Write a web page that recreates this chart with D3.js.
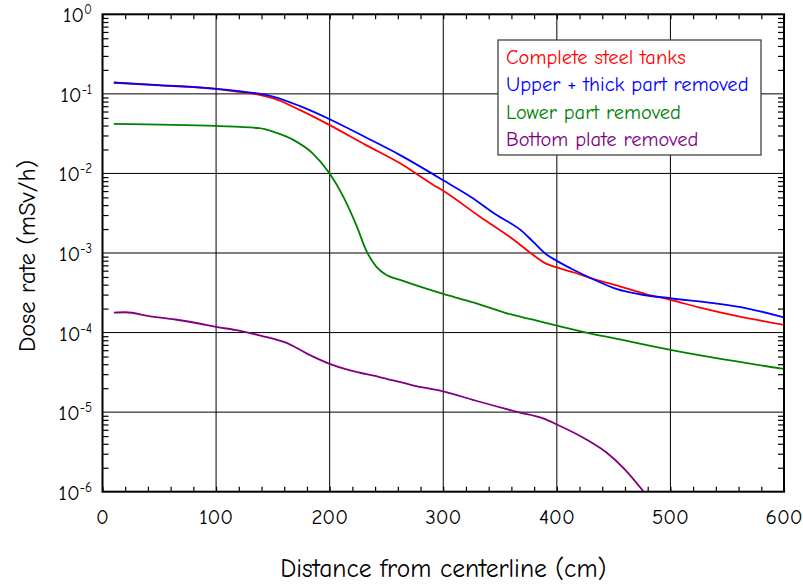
<!DOCTYPE html>
<html>
<head>
<meta charset="utf-8">
<script src="https://cdn.jsdelivr.net/npm/d3@7"></script>
<style>
  html, body { margin: 0; padding: 0; background: #fff; }
  svg { display: block; }
  text { font-family: "Comic Sans MS", "Comic Neue", Lato, "Open Sans", sans-serif; fill: #000; }
</style>
</head>
<body>
<svg id="chart" width="803" height="584"></svg>
<script>
// Dose rate vs distance from centerline, four tank configurations
const seriesNames = ["Complete steel tanks", "Upper + thick part removed", "Lower part removed", "Bottom plate removed"];
const seriesColors = ["#ff0000", "#0000ff", "#008000", "#800080"];

const completeX = [10, 50, 100, 120, 140, 150, 174, 200, 232, 262, 291, 300, 332, 362, 379, 391, 400, 415, 432, 456, 479, 500, 526, 558, 600];
const completeY = [0.138, 0.128, 0.1156, 0.106, 0.096, 0.0882, 0.0624, 0.0405, 0.0227, 0.0134, 0.00723, 0.00604, 0.00288, 0.00147, 0.00095, 0.00073, 0.000658, 0.000569, 0.000473, 0.000379, 0.000303, 0.000258, 0.000206, 0.000162, 0.000125];

const upperX = [10, 50, 100, 120, 139, 150, 174, 200, 232, 262, 291, 300, 325, 347, 368, 379, 390, 400, 415, 432, 453, 473, 500, 538, 567, 600];
const upperY = [0.139, 0.129, 0.1156, 0.108, 0.1, 0.0926, 0.070, 0.048, 0.0283, 0.017, 0.0098, 0.0082, 0.0050, 0.0030, 0.00195, 0.00139, 0.00098, 0.000796, 0.000611, 0.000468, 0.000351, 0.000303, 0.00027, 0.000234, 0.000202, 0.000155];

const lowerX = [10, 100, 138, 150, 168, 185, 200, 212, 224, 232, 241, 250, 262, 300, 321, 338, 359, 379, 400, 426, 450, 500, 538, 600];
const lowerY = [0.042, 0.0395, 0.037, 0.0336, 0.0264, 0.0179, 0.0100, 0.00512, 0.00214, 0.00109, 0.000673, 0.000528, 0.000459, 0.000306, 0.000252, 0.000212, 0.00017, 0.000145, 0.000122, 0.0001, 0.0000849, 0.0000605, 0.0000485, 0.0000349];

const bottomX = [10, 20, 42, 64, 85, 100, 120, 139, 164, 180, 200, 218, 243, 274, 300, 328, 366, 388, 400, 426, 444, 460, 476];
const bottomY = [0.000178, 0.00018, 0.00016, 0.000146, 0.00013, 0.000118, 0.000106, 0.0000917, 0.0000721, 0.0000544, 0.0000405, 0.0000334, 0.0000278, 0.0000216, 0.0000182, 0.000014, 0.00001, 0.00000833, 0.000007, 0.00000454, 0.00000309, 0.0000019, 0.00000102];

const xTicks = [0, 100, 200, 300, 400, 500, 600];
const yExponents = [0, -1, -2, -3, -4, -5, -6];

const xLabel = "Distance from centerline (cm)";
const yLabel = "Dose rate (mSv/h)";

const seriesData = [
  [completeX, completeY],
  [upperX, upperY],
  [lowerX, lowerY],
  [bottomX, bottomY]
];

const svg = d3.select("#chart");
const plotLeft = 102.5, plotRight = 784, plotTop = 14.3, plotBottom = 491.7;

const x = d3.scaleLinear().domain([0, 600]).range([plotLeft, plotRight]);
const y = d3.scaleLog().domain([1e-6, 1]).range([plotBottom, plotTop]);

// grid
const grid = svg.append("g").attr("stroke", "#000").attr("stroke-width", 1);
grid.selectAll("line.gx").data(xTicks.slice(1, -1)).join("line")
  .attr("class", "gx")
  .attr("x1", d => x(d)).attr("x2", d => x(d))
  .attr("y1", plotTop).attr("y2", plotBottom);
grid.selectAll("line.gy").data(yExponents.slice(1, -1)).join("line")
  .attr("class", "gy")
  .attr("x1", plotLeft).attr("x2", plotRight)
  .attr("y1", d => y(Math.pow(10, d))).attr("y2", d => y(Math.pow(10, d)));

// minor ticks, inside the frame on all four sides
const minorX = d3.range(0, 601, 20);
const minorY = [];
for (let e = -6; e < 0; e++) for (let m = 2; m <= 9; m++) minorY.push(m * Math.pow(10, e));

const ticks = svg.append("g");
ticks.append("g").attr("transform", `translate(0,${plotBottom})`)
  .call(d3.axisBottom(x).tickValues(minorX).tickSize(-5).tickFormat(""));
ticks.append("g").attr("transform", `translate(0,${plotTop})`)
  .call(d3.axisTop(x).tickValues(minorX).tickSize(-5).tickFormat(""));
ticks.append("g").attr("transform", `translate(${plotLeft},0)`)
  .call(d3.axisLeft(y).tickValues(minorY).tickSize(-6).tickFormat(""));
ticks.append("g").attr("transform", `translate(${plotRight},0)`)
  .call(d3.axisRight(y).tickValues(minorY).tickSize(-6).tickFormat(""));
ticks.selectAll(".domain").remove();
ticks.selectAll(".tick line").attr("stroke", "#000").attr("stroke-width", 1.2);

// curves
svg.append("clipPath").attr("id", "plotClip")
  .append("rect").attr("x", plotLeft).attr("y", plotTop)
  .attr("width", plotRight - plotLeft).attr("height", plotBottom - plotTop);

const line = d3.line()
  .x(d => x(d[0]))
  .y(d => y(d[1]))
  .curve(d3.curveMonotoneX);

const curves = svg.append("g").attr("clip-path", "url(#plotClip)");
seriesData.forEach(([xs, ys], i) => {
  const pts = xs.map((v, j) => [v, ys[j]]);
  curves.append("path")
    .attr("d", line(pts))
    .attr("fill", "none")
    .attr("stroke", seriesColors[i])
    .attr("stroke-width", 1.8)
    .attr("stroke-linejoin", "round");
});

// frame
svg.append("rect")
  .attr("x", plotLeft).attr("y", plotTop)
  .attr("width", plotRight - plotLeft).attr("height", plotBottom - plotTop)
  .attr("fill", "none").attr("stroke", "#000").attr("stroke-width", 2);

// x tick labels
svg.append("g").selectAll("text").data(xTicks).join("text")
  .attr("x", d => x(d)).attr("y", 524)
  .attr("text-anchor", "middle")
  .attr("font-size", 21)
  .text(d => d);

// y tick labels: 10 with superscript exponent
const yl = svg.append("g").selectAll("text").data(yExponents).join("text")
  .attr("x", 92).attr("y", d => y(Math.pow(10, d)) + 8)
  .attr("text-anchor", "end")
  .attr("font-size", 21);
yl.append("tspan").text("10");
yl.append("tspan").attr("font-size", 13).attr("dy", -8).text(d => d === 0 ? "0" : String(d));

// axis titles
svg.append("text")
  .attr("x", (plotLeft + plotRight) / 2).attr("y", 577)
  .attr("text-anchor", "middle")
  .attr("font-size", 25.5)
  .text(xLabel);

svg.append("text")
  .attr("transform", `translate(35,256) rotate(-90)`)
  .attr("text-anchor", "middle")
  .attr("font-size", 24.5)
  .text(yLabel);

// legend
const lg = svg.append("g");
lg.append("rect")
  .attr("x", 498).attr("y", 40).attr("width", 263).attr("height", 115)
  .attr("fill", "#fff").attr("stroke", "#333").attr("stroke-width", 1.2);
lg.selectAll("text").data(seriesNames).join("text")
  .attr("x", 506).attr("y", (d, i) => 64 + i * 27.3)
  .attr("font-size", 20.5)
  .style("fill", (d, i) => seriesColors[i])
  .text(d => d);
</script>
</body>
</html>
